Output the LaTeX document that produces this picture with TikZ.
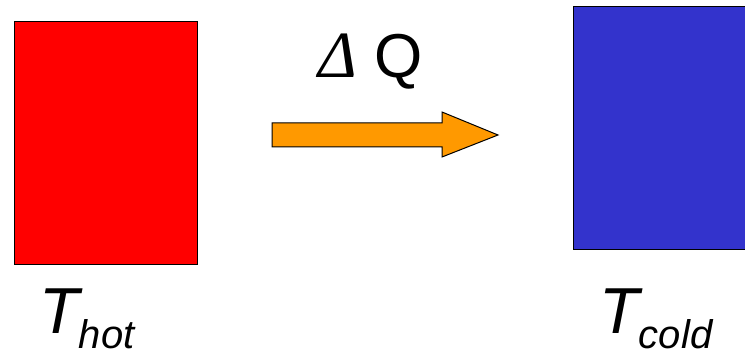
\documentclass[tikz,border=0pt]{standalone}
\usepackage{fontspec}
\setmainfont{Liberation Sans}
\newfontfamily\serifdelta{Liberation Serif}
\definecolor{hotred}{HTML}{FF0000}
\definecolor{coldblue}{HTML}{3333CC}
\definecolor{floworange}{HTML}{FF9900}
\begin{document}
\begin{tikzpicture}[x=1pt,y=-1pt,
  body/.style={draw=black,line width=1.3pt,inner sep=0pt,anchor=north west},
  label/.style={inner sep=0pt,anchor=base west},
  flowarrow/.style={draw=black,line width=1pt,fill=floworange,line join=miter}]
\useasboundingbox (0,0) rectangle (745,355);
\clip (0,0) rectangle (745,355);
\node[body,fill=hotred,minimum width=183pt,minimum height=243pt] (hot) at (14,21) {};
\node[body,fill=coldblue,minimum width=190pt,minimum height=243pt] (cold) at (573,6) {};
\draw[flowarrow] (272,123) -- (442,123) -- (442,112) -- (498,135) -- (442,157) -- (442,147) -- (272,147) -- cycle;
\node[label] (dq) at (318,78) {{\fontsize{66}{66}\selectfont\serifdelta\itshape Δ}\hspace{18pt}{\fontsize{62}{62}\selectfont Q}};
\node[label] (hotlabel) at (39,334) {\fontsize{65}{65}\selectfont\itshape T\raisebox{-15pt}{\fontsize{40}{40}\selectfont hot}};
\node[label] (coldlabel) at (599,334) {\fontsize{65}{65}\selectfont\itshape T\raisebox{-15pt}{\fontsize{40}{40}\selectfont cold}};
\end{tikzpicture}
\end{document}
